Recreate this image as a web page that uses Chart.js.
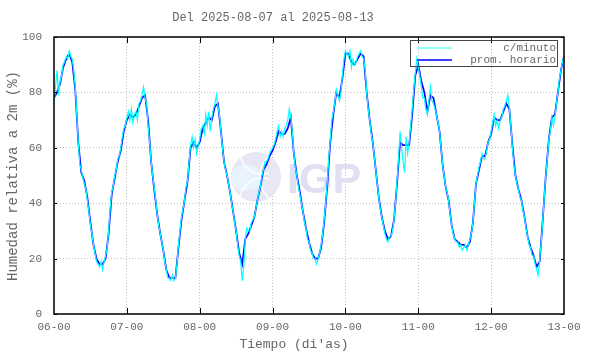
<!DOCTYPE html>
<html>
<head>
<meta charset="utf-8">
<script src="https://cdn.jsdelivr.net/npm/chart.js@4.4.0/dist/chart.umd.min.js"></script>
<style>
  html, body { margin: 0; padding: 0; background: #fff; }
  #wrap { width: 590px; height: 354px; }
</style>
</head>
<body>
<div id="wrap"><canvas id="humChart" width="590" height="354"></canvas></div>
<script>
// tick labels of the x axis (one per day, every 24 h)
var dayLabels = ['06-00', '07-00', '08-00', '09-00', '10-00', '11-00', '12-00', '13-00'];
var yTicks = [0, 20, 40, 60, 80, 100];

// prom. horario : one value per hour, hour 0 = 06-00
var hourly = [
  78, 80, 83, 89, 92, 94, 91, 81, 62, 51, 48, 42, 33, 25, 20, 18, 18, 20, 29, 43, 49, 55, 59, 66,
  70, 72, 71, 72, 75, 78, 79, 70, 55, 45, 36, 29, 23, 16, 13, 13, 13, 24, 34, 41, 48, 60, 62, 60,
  62, 67, 69, 71, 70, 75, 76, 66, 55, 50, 44, 37, 30, 22, 18, 27, 29, 32, 35, 41, 46, 52, 54, 57,
  59, 62, 66, 65, 65, 67, 71, 58, 50, 44, 37, 31, 26, 22, 20, 20, 24, 33, 46, 62, 72, 80, 78, 85,
  94, 94, 91, 90, 92, 94, 93, 80, 70, 62, 52, 42, 35, 30, 27, 28, 34, 47, 62, 61, 61, 61, 72, 86,
  90, 84, 80, 73, 79, 78, 72, 66, 54, 46, 41, 32, 27, 26, 25, 25, 24, 26, 33, 47, 52, 57, 57, 62,
  65, 71, 70, 70, 73, 76, 74, 61, 50, 45, 41, 35, 28, 24, 21, 17, 19, 34, 50, 63, 71, 72, 80, 88,
  93
];

// c/minuto : every 30 minutes (noise included)
var minuteValues = [
  76, 82, 88, 79, 84, 86, 90, 91, 93, 92, 95, 93, 92, 88, 82, 72, 62, 54, 52, 49, 47, 45, 41, 37,
  32, 29, 25, 22, 19, 18, 17, 19, 16, 19, 21, 24, 30, 38, 44, 46, 50, 52, 56, 57, 60, 64, 67, 68,
  71, 73, 70, 74, 69, 72, 73, 70, 76, 77, 79, 82, 78, 76, 68, 62, 55, 50, 46, 41, 36, 32, 29, 26,
  23, 19, 16, 13, 13, 12, 14, 12, 13, 18, 25, 30, 35, 38, 41, 46, 48, 55, 61, 64, 60, 63, 58, 61,
  63, 67, 68, 65, 72, 68, 73, 66, 71, 74, 76, 79, 75, 72, 66, 60, 55, 52, 50, 47, 44, 40, 37, 33,
  30, 25, 21, 19, 12, 17, 27, 31, 30, 30, 33, 34, 35, 38, 41, 44, 46, 50, 52, 55, 55, 56, 58, 59,
  60, 61, 63, 66, 68, 64, 66, 64, 67, 68, 70, 74, 71, 66, 58, 53, 50, 46, 43, 40, 37, 33, 31, 27,
  26, 23, 22, 20, 20, 18, 20, 22, 25, 29, 34, 40, 47, 56, 63, 70, 73, 76, 81, 79, 77, 80, 86, 92,
  95, 94, 93, 95, 89, 92, 90, 91, 93, 94, 95, 93, 92, 88, 80, 74, 70, 65, 62, 57, 52, 47, 42, 38,
  35, 32, 29, 27, 26, 28, 28, 30, 34, 40, 48, 56, 66, 60, 55, 51, 64, 58, 62, 68, 74, 81, 87, 92,
  89, 86, 82, 78, 78, 74, 72, 77, 82, 77, 76, 74, 72, 69, 66, 60, 54, 50, 46, 44, 41, 36, 32, 29,
  27, 26, 26, 24, 25, 23, 24, 25, 23, 25, 27, 29, 33, 40, 47, 50, 53, 55, 58, 56, 56, 59, 62, 63,
  66, 69, 72, 68, 70, 67, 70, 71, 74, 75, 77, 79, 74, 68, 60, 54, 50, 47, 45, 42, 41, 37, 35, 31,
  28, 25, 24, 21, 21, 18, 16, 14, 20, 26, 34, 42, 50, 56, 63, 66, 71, 68, 71, 76, 80, 85, 88, 91,
  93
];

var hourlyPts = hourly.map(function (v, i) { return { x: i, y: v }; });
var minutePts = minuteValues.map(function (v, i) { return { x: i / 2, y: v }; });

var monoFont = "'Liberation Mono', 'DejaVu Sans Mono', monospace";
var textGray = '#666666';

// title, axis titles, legend, frame and watermark
var decorPlugin = {
  id: 'decor',
  beforeDatasetsDraw: function (chart) {
    var ctx = chart.ctx;
    // IGP watermark
    ctx.save();
    ctx.beginPath();
    ctx.arc(256, 177, 25, 0, Math.PI * 2);
    ctx.fillStyle = '#e7e7f5';
    ctx.fill();
    ctx.clip();
    ctx.fillStyle = '#e9f3fd';
    ctx.beginPath();
    ctx.ellipse(246, 178, 17, 13, 0, 0, Math.PI * 2);
    ctx.fill();
    ctx.strokeStyle = '#ffffff';
    ctx.lineWidth = 1.5;
    ctx.beginPath(); ctx.arc(262, 200, 22, Math.PI, Math.PI * 1.6); ctx.stroke();
    ctx.beginPath(); ctx.arc(262, 152, 22, Math.PI * 0.4, Math.PI); ctx.stroke();
    ctx.beginPath(); ctx.arc(290, 177, 30, Math.PI * 0.7, Math.PI * 1.3); ctx.stroke();
    ctx.restore();
    ctx.save();
    ctx.fillStyle = '#e0e0f2';
    ctx.font = "bold 43px 'Liberation Sans', Arial, sans-serif";
    ctx.textBaseline = 'alphabetic';
    ctx.fillText('IGP', 287, 193);
    ctx.restore();
  },
  afterDraw: function (chart) {
    var ctx = chart.ctx;
    var a = chart.chartArea;
    var xs = chart.scales.x, ys = chart.scales.y;
    ctx.save();
    ctx.fillStyle = textGray;
    ctx.font = '12px ' + monoFont;
    ctx.textAlign = 'center';
    ctx.textBaseline = 'middle';
    ctx.fillText('Del 2025-08-07 al 2025-08-13', 273, 18);
    ctx.font = '13px ' + monoFont;
    ctx.fillText("Tiempo (di'as)", 294, 345);
    ctx.save();
    ctx.translate(13, 176);
    ctx.rotate(-Math.PI / 2);
    ctx.font = '14px ' + monoFont;
    ctx.fillText('Humedad relativa a 2m (%)', 0, 0);
    ctx.restore();

    // frame
    ctx.strokeStyle = '#000';
    ctx.lineWidth = 1.5;
    ctx.strokeRect(a.left, a.top, a.right - a.left, a.bottom - a.top);
    // inner ticks
    ctx.lineWidth = 1;
    for (var d = 1; d < dayLabels.length - 1; d++) {
      var px = Math.round(xs.getPixelForValue(d * 24)) + 0.5;
      ctx.beginPath();
      ctx.moveTo(px, a.top); ctx.lineTo(px, a.top + 6);
      ctx.moveTo(px, a.bottom); ctx.lineTo(px, a.bottom - 6);
      ctx.stroke();
    }
    yTicks.forEach(function (t) {
      var py = Math.round(ys.getPixelForValue(t)) + 0.5;
      ctx.beginPath();
      ctx.moveTo(a.left, py); ctx.lineTo(a.left + 3, py);
      ctx.moveTo(a.right, py); ctx.lineTo(a.right - 3, py);
      ctx.stroke();
    });

    // legend
    ctx.strokeStyle = '#444';
    ctx.lineWidth = 1;
    ctx.strokeRect(410.5, 40.5, 147, 26);
    ctx.strokeStyle = '#66ffff';
    ctx.lineWidth = 1.5;
    ctx.beginPath(); ctx.moveTo(417, 48); ctx.lineTo(452, 48); ctx.stroke();
    ctx.strokeStyle = '#0000ff';
    ctx.beginPath(); ctx.moveTo(417, 60); ctx.lineTo(452, 60); ctx.stroke();
    ctx.fillStyle = textGray;
    ctx.font = '11px ' + monoFont;
    ctx.textAlign = 'right';
    ctx.fillText('c/minuto', 556, 48);
    ctx.fillText('prom. horario', 556, 60);
    ctx.restore();
  }
};

var ctx = document.getElementById('humChart').getContext('2d');
var humChart = new Chart(ctx, {
  type: 'line',
  data: {
    datasets: [{
      label: 'c/minuto',
      data: minutePts,
      borderColor: '#00ffff',
      borderWidth: 1.2,
      pointRadius: 0,
      tension: 0,
      fill: false
    }, {
      label: 'prom. horario',
      data: hourlyPts,
      borderColor: '#0000ff',
      borderWidth: 1.7,
      pointRadius: 0,
      tension: 0,
      fill: false
    }]
  },
  options: {
    responsive: false,
    animation: false,
    events: [],
    layout: { padding: { top: 37, right: 26, left: 0, bottom: 0 } },
    plugins: {
      legend: { display: false },
      title: { display: false },
      tooltip: { enabled: false }
    },
    scales: {
      x: {
        type: 'linear',
        min: 0,
        max: 168,
        afterFit: function (scale) { scale.height = 40; },
        afterBuildTicks: function (scale) {
          scale.ticks = dayLabels.map(function (l, i) { return { value: i * 24 }; });
        },
        ticks: {
          color: textGray,
          font: { family: monoFont, size: 11 },
          padding: 6,
          maxRotation: 0,
          autoSkip: false,
          callback: function (v) { return dayLabels[v / 24]; }
        },
        grid: { color: '#c0c0c0', drawTicks: false, lineWidth: 1 },
        border: { display: false, dash: [1, 2] }
      },
      y: {
        min: 0,
        max: 100,
        afterFit: function (scale) { scale.width = 54; },
        afterBuildTicks: function (scale) {
          scale.ticks = yTicks.map(function (t) { return { value: t }; });
        },
        ticks: {
          color: textGray,
          font: { family: monoFont, size: 11 },
          padding: 12
        },
        grid: { color: '#c0c0c0', drawTicks: false, lineWidth: 1 },
        border: { display: false, dash: [1, 2] }
      }
    }
  },
  plugins: [decorPlugin]
});
</script>
</body>
</html>
